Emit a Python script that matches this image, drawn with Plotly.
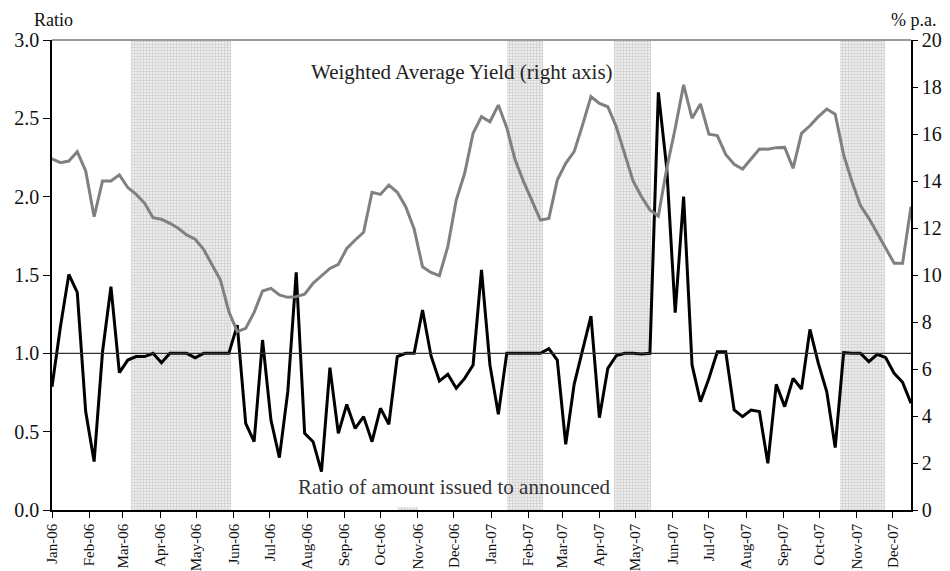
import pandas as pd
import plotly.graph_objects as go

# ---- data ----
start_date = "2006-01-01"
n_weeks = 103
ratio = [0.787, 1.17, 1.504, 1.389, 0.628, 0.309, 1.01, 1.426, 0.877, 0.957,
         0.979, 0.979, 1.0, 0.94, 1.0, 1.0, 1.0, 0.972, 1.0, 1.0,
         1.0, 1.0, 1.18, 0.553, 0.436, 1.085, 0.574, 0.334, 0.755, 1.517,
         0.489, 0.436, 0.245, 0.909, 0.489, 0.674, 0.521, 0.596, 0.436, 0.649,
         0.547, 0.979, 1.0, 1.0, 1.277, 0.985, 0.823, 0.866, 0.777, 0.84,
         0.926, 1.532, 0.926, 0.611, 1.0, 1.0, 1.0, 1.0, 1.0, 1.03,
         0.957, 0.419, 0.802, 1.02, 1.238, 0.589, 0.904, 0.985, 1.0, 1.0,
         0.996, 1.0, 2.666, 2.18, 1.26, 2.0, 0.926, 0.691, 0.84, 1.01,
         1.01, 0.638, 0.596, 0.638, 0.628, 0.298, 0.802, 0.66, 0.84, 0.772,
         1.153, 0.936, 0.755, 0.398, 1.004, 1.0, 1.0, 0.947, 0.994, 0.972,
         0.872, 0.815, 0.681]
yield_pa = [14.94, 14.78, 14.85, 15.25, 14.43, 12.48, 14.0, 14.0, 14.26, 13.72,
            13.43, 13.05, 12.44, 12.37, 12.2, 11.99, 11.7, 11.52, 11.09, 10.43,
            9.79, 8.44, 7.59, 7.73, 8.41, 9.32, 9.43, 9.15, 9.05, 9.08,
            9.18, 9.65, 9.97, 10.28, 10.45, 11.13, 11.49, 11.82, 13.52, 13.43,
            13.83, 13.52, 12.91, 11.96, 10.35, 10.11, 9.97, 11.21, 13.19, 14.33,
            16.03, 16.74, 16.52, 17.23, 16.27, 14.89, 13.97, 13.12, 12.34, 12.41,
            14.04, 14.75, 15.25, 16.38, 17.59, 17.3, 17.16, 16.31, 15.18, 14.0,
            13.33, 12.77, 12.51, 14.54, 16.24, 18.09, 16.67, 17.28, 15.99, 15.93,
            15.13, 14.71, 14.51, 14.94, 15.36, 15.35, 15.42, 15.43, 14.54, 16.03,
            16.35, 16.74, 17.06, 16.84, 15.11, 13.97, 12.95, 12.41, 11.77, 11.13,
            10.5, 10.5, 12.91]
shade_start = ["2006-03-08", "2007-01-14", "2007-04-13", "2007-10-18", "2006-10-16"]
shade_end = ["2006-05-30", "2007-02-13", "2007-05-14", "2007-11-24", "2006-11-01"]
shade_top = [3.0, 3.0, 3.0, 3.0, 0.02]
month_ticks = pd.date_range("2006-01-01", "2007-12-01", freq="MS")
month_labels = [d.strftime("%b-%y") for d in month_ticks]

dates = pd.date_range(start_date, periods=n_weeks, freq="7D")

FONT = "Liberation Serif, Times New Roman, DejaVu Serif, serif"

s = pd.to_datetime(shade_start)
e = pd.to_datetime(shade_end)
mid = s + (e - s) / 2
widths = [(b - a).total_seconds() * 1000 for a, b in zip(s, e)]

fig = go.Figure()
fig.add_trace(go.Bar(
    x=mid, y=shade_top, width=widths, yaxis="y",
    marker=dict(color="#ececec", line=dict(width=0),
                pattern=dict(shape="+", size=3, fgcolor="#a8a8a8",
                             bgcolor="#ececec", solidity=0.35)),
    hoverinfo="skip", showlegend=False))
fig.add_trace(go.Scatter(
    x=dates, y=yield_pa, yaxis="y2", mode="lines",
    line=dict(color="#808080", width=3), showlegend=False))
fig.add_trace(go.Scatter(
    x=dates, y=ratio, yaxis="y", mode="lines",
    line=dict(color="#000000", width=3), showlegend=False))

fig.add_shape(type="line", xref="paper", x0=0, x1=1, yref="y", y0=1, y1=1,
              line=dict(color="#333333", width=1.2))
fig.add_shape(type="line", xref="paper", x0=0, x1=1, yref="paper", y0=1, y1=1,
              line=dict(color="#999999", width=2))

fig.update_layout(
    width=942, height=563,
    margin=dict(l=44, r=39, t=32, b=61, autoexpand=False),
    paper_bgcolor="white", plot_bgcolor="white",
    font=dict(family=FONT, size=20, color="#111111"),
    bargap=0,
    xaxis=dict(type="date", range=[dates[0], dates[-1]],
               tickvals=month_ticks, ticktext=month_labels, tickangle=-90,
               tickfont=dict(size=15), ticks="outside", ticklen=6,
               tickcolor="black", showline=True, linecolor="black",
               linewidth=1.5, showgrid=False, zeroline=False,
               automargin=False),
    yaxis=dict(range=[0, 3], dtick=0.5, tickformat=".1f", ticks="outside",
               ticklen=7, tickcolor="black", showline=True, linecolor="black",
               linewidth=1.5, showgrid=False, zeroline=False,
               automargin=False),
    yaxis2=dict(range=[0, 20], dtick=2, overlaying="y", side="right",
                ticks="outside", ticklen=5, tickcolor="black", showline=True,
                linecolor="black", linewidth=1.5, showgrid=False,
                zeroline=False, automargin=False),
    annotations=[
        dict(text="Weighted Average Yield (right axis)", xref="paper",
             yref="paper", x=0.477, y=0.932, yanchor="middle",
             showarrow=False, font=dict(size=21, color="#222222")),
        dict(text="Ratio of amount issued to announced", xref="paper",
             yref="paper", x=0.2846, y=0.049, yanchor="middle",
             showarrow=False, font=dict(size=21, color="#333333")),
        dict(text="Ratio", xref="paper", yref="paper", x=-0.0221, y=1.066,
             xanchor="left", yanchor="top", showarrow=False,
             font=dict(size=18), borderpad=0),
        dict(text="% p.a.", xref="paper", yref="paper", x=0.9756, y=1.066,
             xanchor="left", yanchor="top", showarrow=False,
             font=dict(size=18), borderpad=0),
    ],
)

fig.write_html("out.html")
